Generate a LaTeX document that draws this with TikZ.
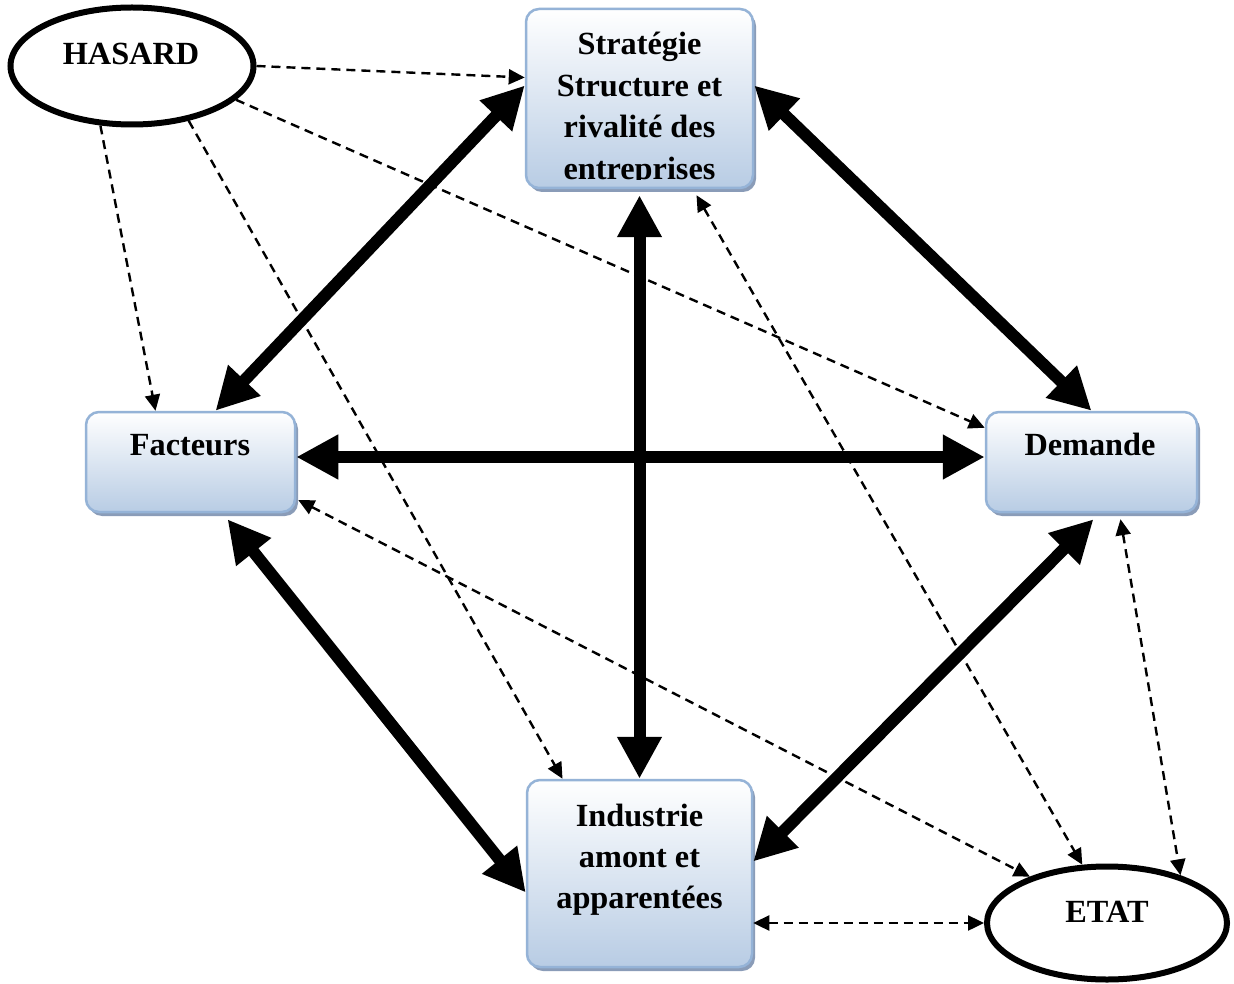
\documentclass[tikz,border=0pt]{standalone}
\usepackage{fontspec}
\setmainfont{Liberation Serif}
\usetikzlibrary{arrows.meta,calc,shapes.geometric,shadows}
\definecolor{boxedge}{RGB}{149,179,215}
\definecolor{boxlow}{RGB}{184,204,228}
\definecolor{boxshade}{RGB}{138,156,184}
\tikzset{
  box/.style={rounded corners=13pt, draw=boxedge, line width=2.5pt,
    top color=white, bottom color=boxlow, inner sep=0pt,
    drop shadow={shadow xshift=3pt, shadow yshift=-4pt, fill=boxshade, opacity=1}},
  oval/.style={ellipse, draw=black, line width=6pt, fill=white, inner sep=0pt},
  txt/.style={font=\fontsize{32.3}{41}\selectfont\bfseries, inner sep=0pt, anchor=base},
  bigarrow/.style={line width=12pt,
    {Triangle[length=42pt,width=42pt]}-{Triangle[length=42pt,width=42pt]}},
  linkarrow/.style={line width=2.4pt, dash pattern=on 9pt off 6pt},
  tip/.style={-{Triangle[length=16pt,width=15pt]}},
  tips/.style={{Triangle[length=16pt,width=15pt]}-{Triangle[length=16pt,width=15pt]}}
}
\begin{document}
\begin{tikzpicture}[x=1pt,y=-1pt]
\useasboundingbox[fill=white] (0,0) rectangle (1234,984);

% the four determinants
\node[box, minimum width=227pt, minimum height=179pt] (strat) at (639.5,98.5) {};
\node[box, minimum width=225pt, minimum height=187pt] (ind) at (639.5,873.5) {};
\node[box, minimum width=209pt, minimum height=100pt] (fact) at (190.5,462) {};
\node[box, minimum width=211pt, minimum height=100pt] (dem) at (1091.5,462) {};

% the two outside influences
\node[oval, minimum width=243pt, minimum height=117pt] (hasard) at (132,66) {};
\node[oval, minimum width=240pt, minimum height=113pt] (etat) at (1107,923) {};

% links between the determinants
\draw[bigarrow] ($(strat.west)+(0,-13)$) -- ($(fact.north)+(25,0)$);
\draw[bigarrow] ($(strat.east)+(0,-13)$) -- (dem.north);
\draw[bigarrow] ($(strat.south)+(0,6)$) -- (ind.north);
\draw[bigarrow] ($(fact.east)+(0,-5)$) -- ($(dem.west)+(0,-5)$);
\draw[bigarrow] ($(fact.south)+(37,6)$) -- ($(ind.west)+(0,19)$);
\draw[bigarrow] ($(dem.south)+(2,6)$) -- ($(ind.east)+(0,-12)$);

% chance
\draw[linkarrow, tip] (hasard.east) -- ($(strat.west)+(0,-21)$);
\draw[linkarrow, tip] (hasard.-18) -- ($(dem.north west)+(0,17)$);
\draw[linkarrow, tip] (hasard.-118) -- ($(fact.north)+(-35,0)$);
\draw[linkarrow, tip] (hasard.-44) -- ($(ind.north)+(-77,0)$);

% government
\draw[linkarrow, tips] ($(strat.south)+(57,6)$) -- (etat.113);
\draw[linkarrow, tips] ($(fact.east)+(2,38)$) -- (etat.149);
\draw[linkarrow, tips] ($(dem.south)+(29,6)$) -- (etat.33);
\draw[linkarrow, tips] (ind.east |- etat.west) -- (etat.west);

% labels
\begin{scope}
  \clip ($(strat.north west)+(2,2)$) rectangle ($(strat.south east)+(-2,-10)$);
  \node[txt] (s1) at (639.5,55) {Stratégie};
  \node[txt] (s2) at (639.5,97) {Structure et};
  \node[txt] (s3) at (639.5,138) {rivalité des};
  \node[txt] (s4) at (639.5,180) {entreprises};
\end{scope}
\node[txt] (i1) at (639.5,826) {Industrie};
\node[txt] (i2) at (639.5,867) {amont et};
\node[txt] (i3) at (639.5,908) {apparentées};
\node[txt] (ft) at (190,455) {Facteurs};
\node[txt] (dt) at (1090,455) {Demande};
\node[txt] (ht) at (131,65) {HASARD};
\node[txt] (et) at (1107,922) {ETAT};
\end{tikzpicture}
\end{document}
